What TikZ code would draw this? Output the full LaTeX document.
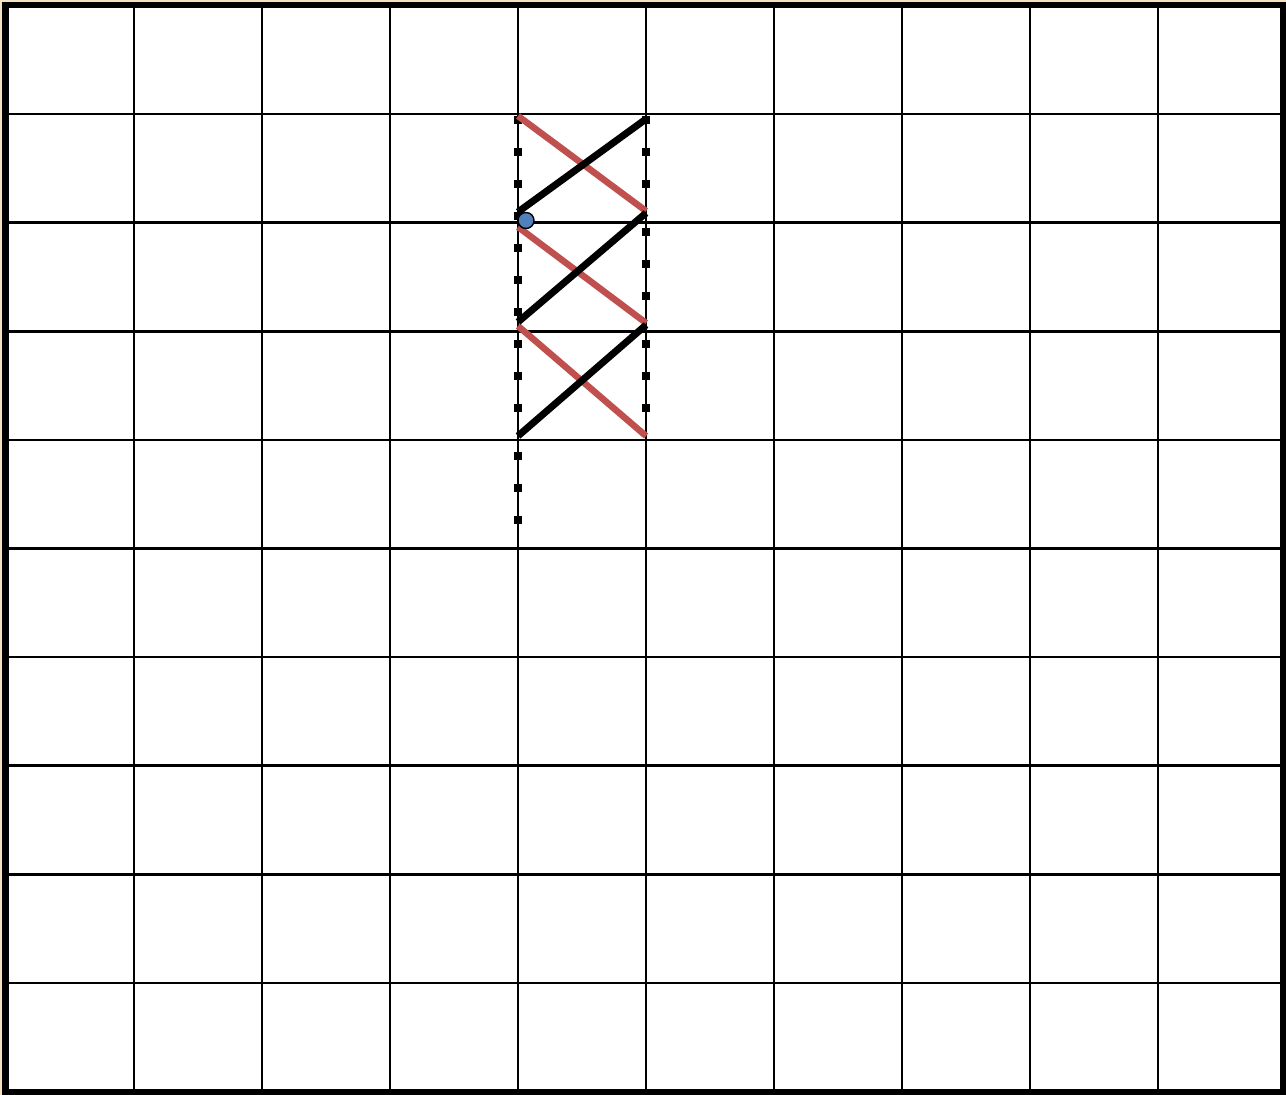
\documentclass[tikz,border=0pt]{standalone}
\definecolor{zagred}{RGB}{192,80,77}
\definecolor{dotblue}{RGB}{79,129,189}
\definecolor{edgebeige}{RGB}{246,226,190}
\begin{document}
\begin{tikzpicture}[
    x=0.01cm, y=-0.01cm,
    gridline/.style={line width=0.025cm},
    frameline/.style={line width=0.06cm},
    zig/.style={line width=0.07cm, black},
    zag/.style={line width=0.065cm, zagred},
    sq/.style={fill=black}
]
\useasboundingbox (0,0) rectangle (1286,1095);
% Background
\fill[edgebeige] (0,0) rectangle (1286,1095);
\fill[white] (5.5,5.5) rectangle (1283,1092);
% Grid
\foreach \i in {1,...,9}
    \draw[gridline] ({6+128*\i}, 5.5) -- ({6+128*\i}, 1092);
\foreach \j in {1,...,9}
    \draw[gridline] (5.5, {5.5+108.6*\j}) -- (1283, {5.5+108.6*\j});
\draw[frameline] (5.5,5.5) rectangle (1283,1092);
% Square dots on the two columns
\foreach \y in {120,152,184,216,248,280,312,344,376,408,456,488,520}
    \fill[sq] (514,\y-4) rectangle ++(8,8);
\foreach \y in {120,152,184,232,264,296,344,376,408}
    \fill[sq] (642,\y-4) rectangle ++(8,8);
% End points
\coordinate (l1) at (518,116);
\coordinate (l2) at (518,212);
\coordinate (l3) at (518,227);
\coordinate (l4) at (518,322);
\coordinate (l5) at (518,326);
\coordinate (l6) at (518,436);
\coordinate (r1) at (646,119);
\coordinate (r2) at (646,211);
\coordinate (r3) at (646,213);
\coordinate (r4) at (646,323);
\coordinate (r5) at (646,325);
\coordinate (r6) at (646,436);
% Red strokes
\draw[zag] (l1) -- (r2);
\draw[zag] (l3) -- (r4);
\draw[zag] (l5) -- (r6);
% Black strokes
\draw[zig] (l2) -- (r1);
\draw[zig] (l4) -- (r3);
\draw[zig] (l6) -- (r5);
% Start dot
\node[circle, fill=dotblue, draw=black, line width=0.4pt, minimum size=0.16cm, inner sep=0pt] (start) at (526,220.5) {};
\end{tikzpicture}
\end{document}
